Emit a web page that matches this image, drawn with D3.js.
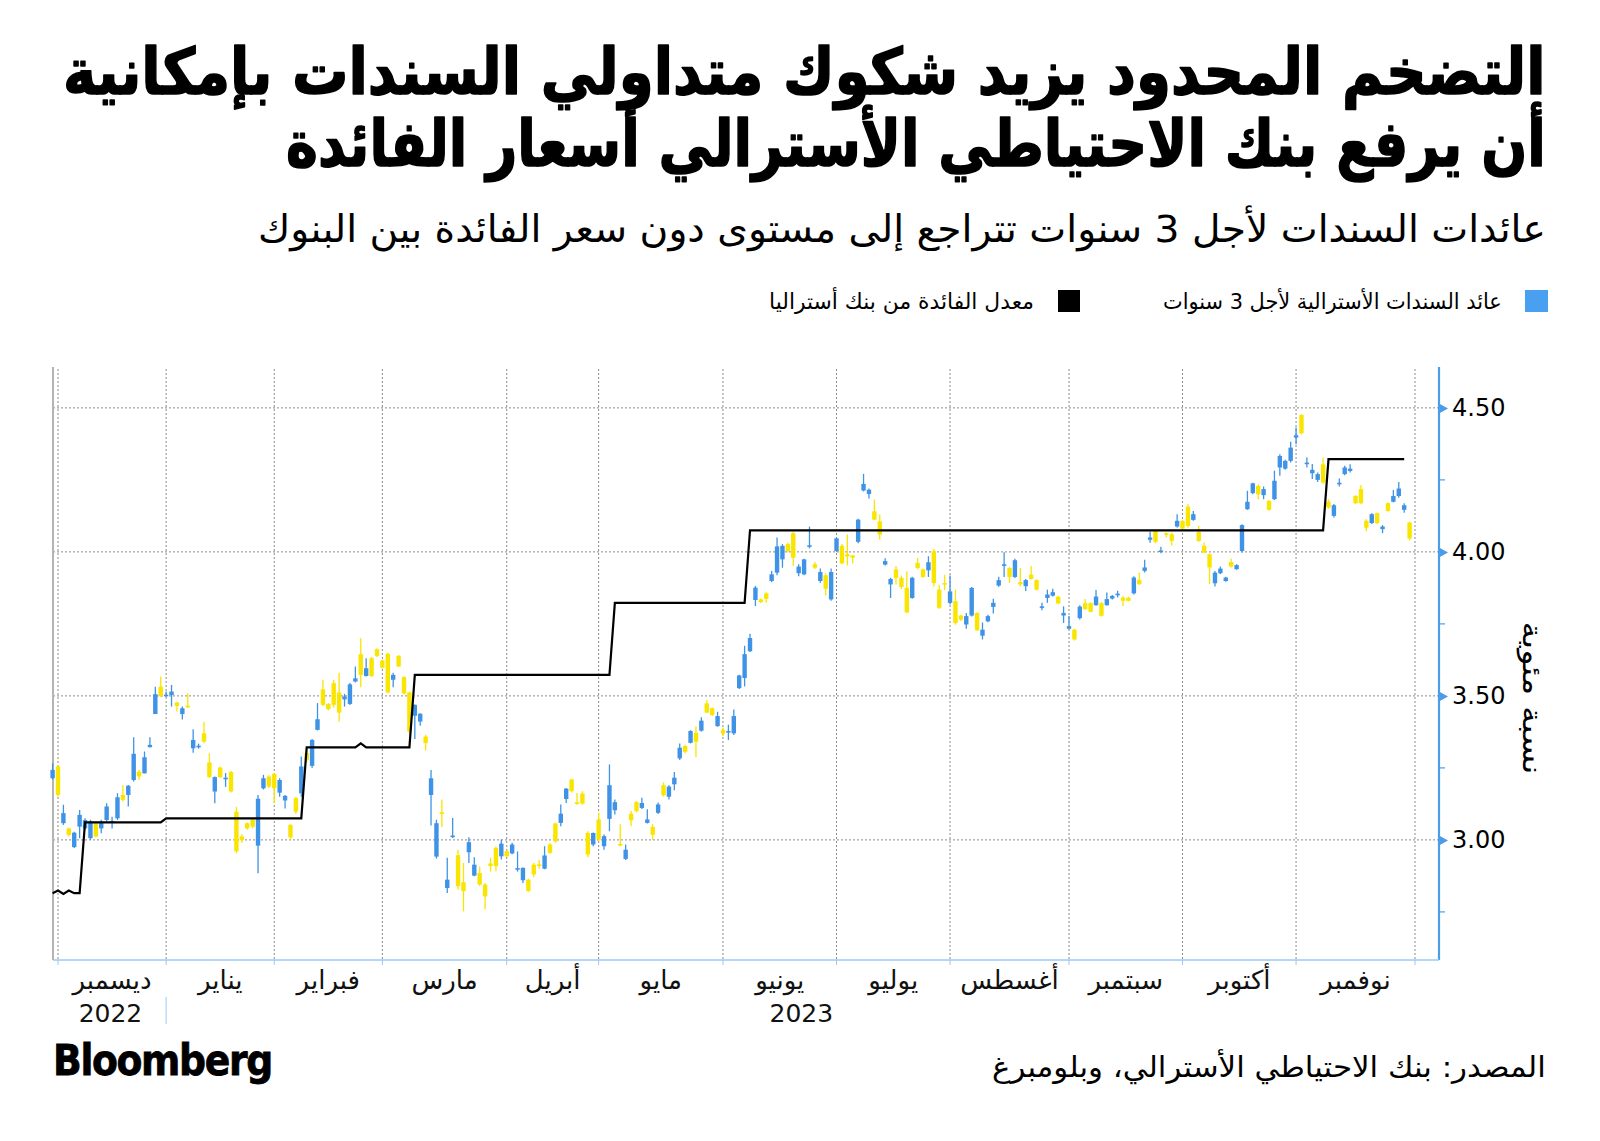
<!DOCTYPE html>
<html>
<head>
<meta charset="utf-8">
<script src="https://cdn.jsdelivr.net/npm/d3@7"></script>
<style>
  body { margin: 0; background: #fff; }
  text { font-family: "DejaVu Sans", sans-serif; }
</style>
</head>
<body>
<div id="chart"></div>
<script>
// month labels (Dec 2022 .. Nov 2023) and trading days per month
var months = ["ديسمبر", "يناير", "فبراير", "مارس", "أبريل", "مايو", "يونيو", "يوليو", "أغسطس", "سبتمبر", "أكتوبر", "نوفمبر"];
var monthCounts = [20, 20, 20, 23, 17, 23, 21, 21, 22, 21, 21, 22];
// year label and the trading day it is centred on
var years = [["2022", 9.7], ["2023", 137.5]];

var yTicks = [3.00, 3.50, 4.00, 4.50];
var yMinor = [2.75, 3.25, 3.75, 4.25];

// 3-year bond yield, daily [open, high, low, close]; first candle is 30 Nov 2022
var firstIndex = -1;
var candles = [
  [3.214, 3.266, 3.210, 3.243],
  // dec
  [3.255, 3.260, 3.150, 3.156], [3.058, 3.122, 3.052, 3.093], [3.040, 3.042, 3.012, 3.017], [2.975, 3.028, 2.972, 3.025],
  [3.046, 3.104, 3.006, 3.087], [3.040, 3.075, 3.035, 3.069], [3.006, 3.070, 3.000, 3.064], [3.058, 3.060, 3.008, 3.012],
  [3.040, 3.070, 3.023, 3.064], [3.069, 3.127, 3.064, 3.116], [3.063, 3.080, 3.040, 3.066], [3.075, 3.162, 3.069, 3.148],
  [3.156, 3.191, 3.133, 3.139], [3.156, 3.191, 3.116, 3.188], [3.208, 3.356, 3.203, 3.299], [3.237, 3.243, 3.208, 3.220],
  [3.231, 3.307, 3.231, 3.287], [3.322, 3.356, 3.321, 3.330], [3.437, 3.532, 3.437, 3.506], [3.532, 3.567, 3.495, 3.500],
  // jan
  [3.501, 3.515, 3.497, 3.504], [3.503, 3.538, 3.463, 3.515], [3.477, 3.480, 3.446, 3.465], [3.437, 3.463, 3.418, 3.457],
  [3.466, 3.509, 3.457, 3.463], [3.318, 3.384, 3.303, 3.347], [3.323, 3.334, 3.317, 3.327], [3.370, 3.410, 3.336, 3.341],
  [3.269, 3.301, 3.215, 3.218], [3.168, 3.220, 3.127, 3.218], [3.251, 3.255, 3.215, 3.218], [3.212, 3.232, 3.184, 3.216],
  [3.236, 3.240, 3.165, 3.168], [3.098, 3.115, 2.954, 2.960], [3.012, 3.020, 2.990, 3.000], [3.058, 3.060, 3.035, 3.040],
  [3.070, 3.075, 3.040, 3.046], [2.980, 3.156, 2.884, 3.143], [3.179, 3.226, 3.175, 3.214], [3.220, 3.225, 3.180, 3.185],
  // feb
  [3.229, 3.232, 3.127, 3.179], [3.164, 3.214, 3.150, 3.208], [3.137, 3.156, 3.109, 3.153], [3.052, 3.055, 3.000, 3.009],
  [3.145, 3.150, 3.090, 3.098], [3.162, 3.290, 3.150, 3.255], [3.301, 3.310, 3.270, 3.278], [3.257, 3.350, 3.250, 3.347],
  [3.382, 3.475, 3.380, 3.419], [3.523, 3.556, 3.465, 3.469], [3.472, 3.475, 3.450, 3.454], [3.544, 3.556, 3.460, 3.469],
  [3.512, 3.580, 3.410, 3.442], [3.488, 3.507, 3.463, 3.498], [3.472, 3.545, 3.468, 3.540], [3.550, 3.602, 3.547, 3.561],
  [3.645, 3.700, 3.530, 3.573], [3.569, 3.631, 3.567, 3.596], [3.631, 3.635, 3.565, 3.569], [3.662, 3.665, 3.635, 3.639],
  // mar
  [3.623, 3.626, 3.595, 3.598], [3.646, 3.650, 3.509, 3.512], [3.556, 3.580, 3.530, 3.573], [3.639, 3.642, 3.600, 3.602],
  [3.565, 3.568, 3.505, 3.509], [3.512, 3.515, 3.370, 3.376], [3.431, 3.470, 3.350, 3.469], [3.411, 3.440, 3.396, 3.438],
  [3.359, 3.365, 3.310, 3.336], [3.156, 3.243, 3.050, 3.214], [2.942, 3.070, 2.935, 3.058], [3.096, 3.140, 3.045, 3.090],
  [2.833, 2.938, 2.816, 2.862], [3.011, 3.076, 3.007, 3.015], [2.947, 2.966, 2.828, 2.839], [2.853, 2.920, 2.752, 2.822],
  [2.957, 3.009, 2.920, 2.992], [2.876, 2.940, 2.874, 2.914], [2.885, 2.908, 2.840, 2.845], [2.845, 2.850, 2.758, 2.804],
  [2.918, 2.938, 2.890, 2.909], [2.972, 2.978, 2.891, 2.909], [2.943, 3.001, 2.932, 2.987],
  // apr
  [2.961, 2.965, 2.940, 2.943], [2.953, 2.990, 2.950, 2.984], [2.899, 2.960, 2.890, 2.902], [2.860, 2.904, 2.850, 2.903],
  [2.862, 2.865, 2.820, 2.822], [2.914, 2.920, 2.870, 2.880], [2.915, 2.930, 2.900, 2.912], [2.900, 2.978, 2.898, 2.946],
  [2.984, 2.990, 2.952, 2.955], [3.057, 3.060, 2.990, 2.995], [3.059, 3.123, 3.047, 3.091], [3.142, 3.180, 3.128, 3.178],
  [3.210, 3.212, 3.165, 3.169], [3.131, 3.163, 3.122, 3.125], [3.161, 3.169, 3.122, 3.126], [3.024, 3.030, 2.940, 2.949],
  [2.984, 3.026, 2.978, 3.024],
  // may
  [3.071, 3.094, 2.995, 3.001], [2.978, 3.019, 2.966, 3.013], [3.073, 3.262, 3.030, 3.190], [3.103, 3.140, 3.088, 3.131],
  [2.986, 3.054, 2.978, 2.984], [2.934, 2.984, 2.930, 2.966], [3.091, 3.100, 3.047, 3.068], [3.131, 3.135, 3.095, 3.100],
  [3.111, 3.146, 3.107, 3.128], [3.059, 3.106, 3.057, 3.071], [3.045, 3.054, 3.000, 3.018], [3.094, 3.130, 3.090, 3.123],
  [3.190, 3.200, 3.150, 3.155], [3.150, 3.190, 3.140, 3.185], [3.193, 3.236, 3.172, 3.216], [3.283, 3.335, 3.277, 3.320],
  [3.326, 3.330, 3.300, 3.306], [3.337, 3.381, 3.335, 3.378], [3.372, 3.395, 3.288, 3.341], [3.379, 3.426, 3.376, 3.414],
  [3.474, 3.486, 3.440, 3.442], [3.457, 3.460, 3.430, 3.434], [3.395, 3.445, 3.393, 3.430],
  // jun
  [3.381, 3.390, 3.360, 3.370], [3.374, 3.400, 3.347, 3.378], [3.370, 3.453, 3.364, 3.430], [3.527, 3.573, 3.524, 3.571],
  [3.562, 3.674, 3.533, 3.645], [3.655, 3.716, 3.652, 3.701], [3.833, 3.882, 3.812, 3.876], [3.835, 3.838, 3.822, 3.826],
  [3.856, 3.860, 3.823, 3.837], [3.899, 3.934, 3.895, 3.922], [3.928, 4.050, 3.919, 4.019], [3.974, 4.027, 3.945, 4.021],
  [4.027, 4.033, 3.998, 4.003], [4.065, 4.070, 3.951, 3.980], [3.926, 3.957, 3.915, 3.949], [3.922, 3.976, 3.919, 3.974],
  [4.019, 4.088, 4.012, 4.023], [3.957, 3.965, 3.941, 3.945], [3.899, 3.942, 3.893, 3.930], [3.919, 3.926, 3.849, 3.872],
  [3.835, 3.942, 3.830, 3.930],
  // jul
  [4.003, 4.050, 4.000, 4.047], [4.021, 4.027, 3.957, 3.960], [3.992, 4.060, 3.953, 3.984], [3.988, 3.988, 3.960, 3.980],
  [4.035, 4.115, 4.030, 4.112], [4.213, 4.271, 4.210, 4.236], [4.201, 4.220, 4.185, 4.216], [4.141, 4.182, 4.110, 4.112],
  [4.106, 4.130, 4.043, 4.060], [3.956, 3.978, 3.953, 3.968], [3.887, 3.910, 3.840, 3.906], [3.939, 3.951, 3.887, 3.910],
  [3.910, 3.918, 3.871, 3.878], [3.875, 3.933, 3.787, 3.790], [3.840, 3.914, 3.837, 3.910], [3.962, 3.979, 3.939, 3.944],
  [3.939, 3.942, 3.910, 3.913], [3.936, 3.985, 3.913, 3.964], [4.002, 4.010, 3.880, 3.892], [3.869, 3.886, 3.802, 3.806],
  [3.892, 3.920, 3.867, 3.887],
  // aug
  [3.823, 3.918, 3.817, 3.863], [3.829, 3.869, 3.747, 3.753], [3.779, 3.782, 3.760, 3.765], [3.748, 3.788, 3.733, 3.777],
  [3.779, 3.878, 3.776, 3.875], [3.788, 3.790, 3.725, 3.728], [3.709, 3.755, 3.696, 3.730], [3.759, 3.782, 3.756, 3.777],
  [3.809, 3.837, 3.786, 3.823], [3.883, 3.914, 3.879, 3.902], [3.953, 3.999, 3.913, 3.957], [3.944, 3.948, 3.893, 3.913],
  [3.913, 3.976, 3.909, 3.971], [3.895, 3.944, 3.880, 3.887], [3.881, 3.906, 3.864, 3.902], [3.921, 3.952, 3.904, 3.906],
  [3.902, 3.905, 3.866, 3.869], [3.807, 3.823, 3.797, 3.811], [3.840, 3.869, 3.823, 3.852], [3.848, 3.872, 3.845, 3.860],
  [3.844, 3.848, 3.818, 3.821], [3.779, 3.811, 3.753, 3.788],
  // sep
  [3.733, 3.777, 3.731, 3.742], [3.730, 3.733, 3.692, 3.696], [3.770, 3.815, 3.765, 3.810], [3.822, 3.836, 3.799, 3.801],
  [3.822, 3.825, 3.790, 3.792], [3.815, 3.868, 3.813, 3.845], [3.822, 3.826, 3.775, 3.778], [3.815, 3.859, 3.813, 3.836],
  [3.838, 3.850, 3.835, 3.847], [3.851, 3.865, 3.842, 3.855], [3.841, 3.847, 3.812, 3.830], [3.841, 3.844, 3.828, 3.830],
  [3.856, 3.915, 3.852, 3.911], [3.903, 3.928, 3.885, 3.888], [3.934, 3.973, 3.928, 3.946], [4.042, 4.070, 4.032, 4.050],
  [4.073, 4.079, 4.030, 4.035], [4.001, 4.018, 3.995, 4.005], [4.065, 4.067, 4.050, 4.062], [4.061, 4.067, 4.021, 4.038],
  [4.088, 4.131, 4.085, 4.108],
  // oct
  [4.108, 4.110, 4.078, 4.081], [4.157, 4.165, 4.084, 4.090], [4.111, 4.142, 4.108, 4.131], [4.069, 4.092, 4.035, 4.038],
  [4.021, 4.033, 3.995, 3.998], [3.992, 3.995, 3.888, 3.946], [3.891, 3.934, 3.880, 3.928], [3.926, 3.949, 3.923, 3.942],
  [3.899, 3.914, 3.896, 3.911], [3.965, 3.977, 3.946, 3.949], [3.940, 3.957, 3.938, 3.954], [4.003, 4.096, 3.998, 4.093],
  [4.148, 4.212, 4.146, 4.174], [4.204, 4.240, 4.200, 4.238], [4.229, 4.235, 4.183, 4.200], [4.197, 4.227, 4.183, 4.218],
  [4.177, 4.180, 4.143, 4.146], [4.183, 4.282, 4.180, 4.247], [4.293, 4.339, 4.264, 4.333], [4.289, 4.320, 4.285, 4.316],
  [4.316, 4.382, 4.310, 4.362],
  // nov
  [4.397, 4.432, 4.374, 4.405], [4.475, 4.478, 4.408, 4.412], [4.306, 4.328, 4.293, 4.310], [4.273, 4.305, 4.253, 4.285],
  [4.250, 4.276, 4.243, 4.270], [4.304, 4.328, 4.236, 4.241], [4.174, 4.183, 4.150, 4.154], [4.125, 4.166, 4.119, 4.162],
  [4.236, 4.255, 4.227, 4.240], [4.270, 4.299, 4.266, 4.293], [4.281, 4.304, 4.276, 4.289], [4.194, 4.197, 4.166, 4.169],
  [4.218, 4.232, 4.166, 4.169], [4.108, 4.113, 4.072, 4.084], [4.100, 4.134, 4.097, 4.131], [4.134, 4.137, 4.097, 4.100],
  [4.079, 4.093, 4.065, 4.088], [4.169, 4.172, 4.139, 4.142], [4.174, 4.215, 4.172, 4.194], [4.194, 4.243, 4.188, 4.220],
  [4.146, 4.169, 4.136, 4.162], [4.102, 4.105, 4.040, 4.046]
];

// RBA interbank rate: day index and level at each break point
var rateIdx = [-1, 0, 1, 2, 3, 4, 5, 19, 20, 45, 46, 55, 56, 57, 65, 66, 102, 103, 127, 128, 234, 235, 249];
var rateVal = [2.815, 2.824, 2.812, 2.824, 2.815, 2.815, 3.061, 3.061, 3.075, 3.075, 3.321, 3.321, 3.335, 3.321,
               3.321, 3.573, 3.573, 3.823, 3.823, 4.075, 4.075, 4.322, 4.322];

var title1 = "التضخم المحدود يزيد شكوك متداولي السندات بإمكانية";
var title2 = "أن يرفع بنك الاحتياطي الأسترالي أسعار الفائدة";
var subtitle = "عائدات السندات لأجل 3 سنوات تتراجع إلى مستوى دون سعر الفائدة بين البنوك";
var legendBond = "عائد السندات الأسترالية لأجل 3 سنوات";
var legendRate = "معدل الفائدة من بنك أستراليا";
var yLabel = "نسبة مئوية";
var source = "المصدر: بنك الاحتياطي الأسترالي، وبلومبرغ";

var W = 1600, H = 1141;
var blue = "#3f93e6", yellow = "#f9e500", axisBlue = "#4c9de9";

var svg = d3.select("#chart").append("svg")
  .attr("width", W).attr("height", H)
  .style("background", "#fff");

var starts = [0].concat(Array.from(d3.cumsum(monthCounts)));
var plotL = 53, plotR = 1439, plotT = 369, plotB = 960;

var x = d3.scaleLinear().domain([0, starts[starts.length - 1]]).range([58, 1415]);
var y = d3.scaleLinear().domain([2.583, 4.635]).range([plotB, plotT]);

// fit a text so its right edge sits at `right` and spans `width`
function place(sel, right, base, width) {
  var bb = sel.node().getBBox();
  var s = width ? width / bb.width : 1;
  var tx = right - (bb.x + bb.width) * s;
  sel.attr("transform", "translate(" + tx + "," + base + ") scale(" + s + ",1)");
}

// titles (a thin stroke makes the face heavier)
place(svg.append("text").text(title1).attr("font-size", 64).attr("font-weight", "bold")
  .attr("stroke", "#000").attr("stroke-width", 1.6).attr("stroke-linejoin", "round"), 1546, 94, 1483);
place(svg.append("text").text(title2).attr("font-size", 64).attr("font-weight", "bold")
  .attr("stroke", "#000").attr("stroke-width", 1.6).attr("stroke-linejoin", "round"), 1546, 166, 1260);
place(svg.append("text").text(subtitle).attr("font-size", 38), 1546, 242, 1288);

// legend
svg.append("rect").attr("x", 1525).attr("y", 290).attr("width", 23).attr("height", 22).attr("fill", "#4aa0f0");
place(svg.append("text").text(legendBond).attr("font-size", 22), 1502, 309, 339);
svg.append("rect").attr("x", 1058).attr("y", 290).attr("width", 22).attr("height", 22).attr("fill", "#000");
place(svg.append("text").text(legendRate).attr("font-size", 22), 1034, 309, 265);

// grid
var grid = svg.append("g").attr("stroke", "#8a8a8a").attr("stroke-dasharray", "2,2").attr("stroke-width", 1);
grid.selectAll(".vg").data(starts).enter().append("line")
  .attr("x1", function(d) { return x(d); }).attr("x2", function(d) { return x(d); })
  .attr("y1", plotT).attr("y2", plotB);
grid.selectAll(".hg").data(yTicks).enter().append("line")
  .attr("x1", plotL).attr("x2", plotR)
  .attr("y1", function(d) { return y(d); }).attr("y2", function(d) { return y(d); });

// left frame line
svg.append("line").attr("x1", plotL).attr("x2", plotL).attr("y1", plotT - 2).attr("y2", plotB)
  .attr("stroke", "#b4b4b4").attr("stroke-width", 2);

// candles
var cg = svg.append("g");
var cs = cg.selectAll("g").data(candles).enter().append("g");
cs.append("line")
  .attr("x1", function(d, i) { return x(i + firstIndex); })
  .attr("x2", function(d, i) { return x(i + firstIndex); })
  .attr("y1", function(d) { return y(d[1]); })
  .attr("y2", function(d) { return y(d[2]); })
  .attr("stroke", function(d) { return d[3] >= d[0] ? blue : yellow; })
  .attr("stroke-width", 1.3);
cs.append("rect")
  .attr("x", function(d, i) { return x(i + firstIndex) - 2.2; })
  .attr("width", 4.4)
  .attr("y", function(d) { return y(Math.max(d[0], d[3])); })
  .attr("height", function(d) { return Math.max(1.6, Math.abs(y(d[0]) - y(d[3]))); })
  .attr("fill", function(d) { return d[3] >= d[0] ? blue : yellow; });

// rate line
var line = d3.line().x(function(d) { return x(d[0]); }).y(function(d) { return y(d[1]); });
svg.append("path")
  .datum(rateIdx.map(function(d, i) { return [d, rateVal[i]]; }))
  .attr("d", line).attr("fill", "none").attr("stroke", "#000").attr("stroke-width", 2.2);

// right axis
var ax = svg.append("g").attr("transform", "translate(" + plotR + ",0)")
  .call(d3.axisRight(y).tickValues(yTicks).tickFormat(d3.format(".2f")).tickSize(0).tickPadding(13));
ax.select(".domain").remove();
ax.selectAll("text").attr("font-size", 24).attr("fill", "#000").attr("font-family", "DejaVu Sans");
ax.selectAll(".tick").append("path").attr("d", "M0,-5L9,0L0,5Z").attr("fill", axisBlue);
ax.selectAll(".minor").data(yMinor).enter().append("line").attr("class", "minor")
  .attr("x1", 0).attr("x2", 6)
  .attr("y1", function(d) { return y(d); }).attr("y2", function(d) { return y(d); })
  .attr("stroke", axisBlue).attr("stroke-width", 1.2);
svg.append("line").attr("x1", plotR).attr("x2", plotR).attr("y1", plotT - 2).attr("y2", plotB)
  .attr("stroke", axisBlue).attr("stroke-width", 2.2);

// y label, rotated and stretched to the reference length
var yl = svg.append("text").text(yLabel).attr("font-size", 27);
var yb = yl.node().getBBox();
var ys = 153 / yb.width;
yl.attr("transform", "translate(1523," + (698 - (yb.x + yb.width / 2) * ys) + ") rotate(90) scale(" + ys + ",1)");

// bottom axis
svg.append("line").attr("x1", plotL).attr("x2", plotR).attr("y1", plotB).attr("y2", plotB)
  .attr("stroke", "#9cc8f0").attr("stroke-width", 1.5);
svg.selectAll(".xt").data(starts).enter().append("line")
  .attr("x1", function(d) { return x(d); }).attr("x2", function(d) { return x(d); })
  .attr("y1", plotB).attr("y2", plotB + 5)
  .attr("stroke", "#9cc8f0").attr("stroke-width", 1);

svg.selectAll(".ml").data(months).enter().append("text")
  .attr("x", function(d, i) { return (x(starts[i]) + x(starts[i + 1])) / 2; })
  .attr("y", 989).attr("text-anchor", "middle").attr("font-size", 26).attr("fill", "#111")
  .text(function(d) { return d; });
svg.selectAll(".yl").data(years).enter().append("text")
  .attr("x", function(d) { return x(d[1]); })
  .attr("y", 1022).attr("text-anchor", "middle").attr("font-size", 25).attr("fill", "#111")
  .text(function(d) { return d[0]; });
svg.append("line").attr("x1", x(starts[1])).attr("x2", x(starts[1])).attr("y1", 997).attr("y2", 1024)
  .attr("stroke", "#9cc8f0").attr("stroke-width", 1);

// footer
var logo = svg.append("text").text("Bloomberg").attr("font-size", 42).attr("font-weight", "bold")
  .attr("font-family", "Liberation Sans").attr("letter-spacing", -1.5)
  .attr("stroke", "#000").attr("stroke-width", 0.8);
var lb = logo.node().getBBox();
logo.attr("transform", "translate(" + (53 - lb.x * 219 / lb.width) + ",1075) scale(" + (219 / lb.width) + ",1)");
place(svg.append("text").text(source).attr("font-size", 29), 1546, 1077, 554);
</script>
</body>
</html>
